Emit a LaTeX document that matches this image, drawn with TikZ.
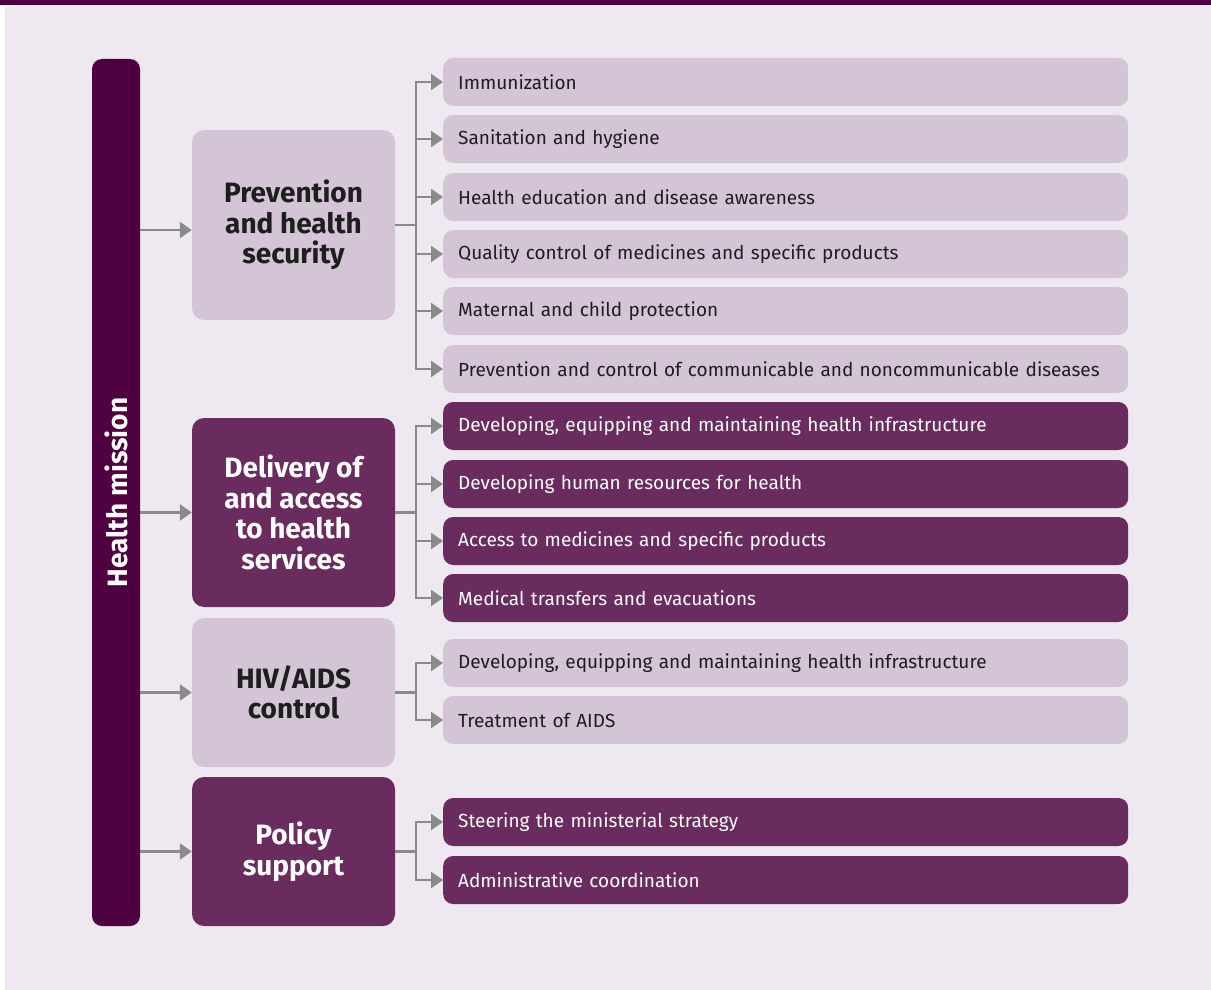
\documentclass[tikz,border=0pt]{standalone}
\usepackage{fontspec}
\setmainfont{Fira Sans}
\usetikzlibrary{arrows.meta}

\definecolor{plum}{HTML}{4F0041}
\definecolor{darkbox}{HTML}{6A2C5E}
\definecolor{lightbox}{HTML}{D3C4D6}
\definecolor{pagebg}{HTML}{EEE9F1}
\definecolor{linkgray}{HTML}{8A8A8A}
\definecolor{ink}{HTML}{1E1E1E}

\tikzset{
  catbox/.style={rectangle, rounded corners=12pt, minimum width=203pt,
    align=center, inner sep=0pt,
    font=\fontsize{28}{30.5}\selectfont\bfseries},
  catlight/.style={catbox, fill=lightbox, text=ink},
  catdark/.style={catbox, fill=darkbox, text=white},
  itembox/.style={rectangle, rounded corners=10pt, anchor=west,
    minimum height=48pt, text width=655pt, inner xsep=15pt, inner ysep=0pt,
    align=left, font=\fontsize{19}{22}\selectfont},
  itemlight/.style={itembox, fill=lightbox, text=ink},
  itemdark/.style={itembox, fill=darkbox, text=white},
  link/.style={draw=linkgray, line width=2.5pt,
    -{Triangle[length=12pt,width=16pt]}},
}

\begin{document}
\begin{tikzpicture}[x=1pt, y=-1pt]
  % page frame
  \useasboundingbox (0,0) rectangle (1211,990);
  \fill[white] (0,0) rectangle (1211,990);
  \fill[pagebg] (5,5) rectangle (1211,990);
  \fill[plum] (0,0) rectangle (1211,5);

  % mission bar
  \node[rectangle, rounded corners=10pt, fill=plum, minimum width=48pt,
        minimum height=867pt, inner sep=0pt] (bar) at (116,492.5) {};
  \node[rotate=90, text=white, font=\fontsize{28}{30}\selectfont\bfseries]
        (mission) at (bar.center) {Health mission};

  % programme boxes
  \node[catlight, minimum height=190pt] (prev) at (293.5,225)
        {Prevention\\and health\\security};
  \node[catdark, minimum height=189pt] (deliv) at (293.5,512.5)
        {Delivery of\\and access\\to health\\services};
  \node[catlight, minimum height=149pt] (hiv) at (293.5,692.5)
        {HIV/AIDS\\control};
  \node[catdark, minimum height=149pt] (pol) at (293.5,851.5)
        {Policy\\support};

  % actions
  \node[itemlight] (p1) at (443,82)  {Immunization};
  \node[itemlight] (p2) at (443,139) {Sanitation and hygiene};
  \node[itemlight] (p3) at (443,197) {Health education and disease awareness};
  \node[itemlight] (p4) at (443,254) {Quality control of medicines and specific products};
  \node[itemlight] (p5) at (443,311) {Maternal and child protection};
  \node[itemlight] (p6) at (443,369) {Prevention and control of communicable and noncommunicable diseases};

  \node[itemdark] (d1) at (443,426) {Developing, equipping and maintaining health infrastructure};
  \node[itemdark] (d2) at (443,484) {Developing human resources for health};
  \node[itemdark] (d3) at (443,541) {Access to medicines and specific products};
  \node[itemdark] (d4) at (443,598) {Medical transfers and evacuations};

  \node[itemlight] (h1) at (443,663) {Developing, equipping and maintaining health infrastructure};
  \node[itemlight] (h2) at (443,720) {Treatment of AIDS};

  \node[itemdark] (s1) at (443,822) {Steering the ministerial strategy};
  \node[itemdark] (s2) at (443,880) {Administrative coordination};

  % bar to programmes (the first one sits a little below its box centre)
  \draw[link] ([yshift=-5pt]prev.west -| bar.east) -- ([yshift=-5pt]prev.west);
  \foreach \c in {deliv,hiv,pol}
    \draw[link] (\c.west -| bar.east) -- (\c.west);

  % programmes to actions
  \foreach \c/\items in {prev/{p1,p2,p3,p4,p5,p6}, deliv/{d1,d2,d3,d4},
                         hiv/{h1,h2}, pol/{s1,s2}}
    \foreach \i in \items
      \draw[link] (\c.east) -- ([xshift=21pt]\c.east) |- (\i.west);
\end{tikzpicture}
\end{document}
